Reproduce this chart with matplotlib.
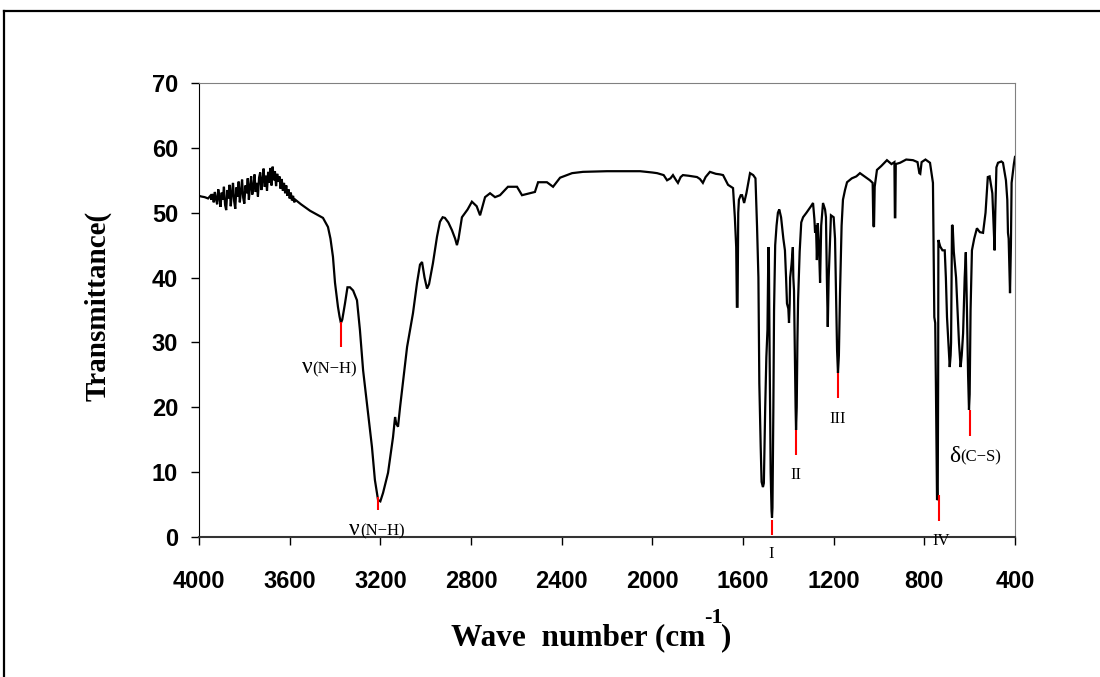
import matplotlib.pyplot as plt
from matplotlib.lines import Line2D

# IR spectrum (wave number in cm-1, transmittance)
wavenumber = [
    4000, 3990, 3975, 3960, 3950,
    3945, 3940, 3935, 3930, 3925, 3920, 3915, 3910, 3905, 3900, 3895, 3890,
    3885, 3880, 3875, 3870, 3865, 3860, 3855, 3850, 3845, 3840, 3835, 3830,
    3825, 3820, 3815, 3810, 3805, 3800, 3795, 3790, 3785, 3780, 3775, 3770,
    3765, 3760, 3755, 3750, 3745, 3740, 3735, 3730, 3725, 3720, 3715, 3710,
    3705, 3700, 3695, 3690, 3685, 3680, 3675, 3670, 3665, 3660, 3655, 3650,
    3645, 3640, 3635, 3630, 3625, 3620, 3615, 3610, 3605, 3600, 3595, 3590,
    3585, 3580, 3575,
    3550, 3510, 3453, 3431, 3420,
    3409, 3400, 3387, 3380, 3374, 3368, 3356, 3345, 3334, 3320, 3303, 3290,
    3276, 3254, 3237, 3224, 3210, 3200, 3188, 3166, 3144, 3135, 3130, 3122,
    3113, 3082, 3056, 3038, 3025, 3016, 3005, 2994, 2985, 2968, 2950, 2937,
    2925, 2915, 2900, 2884, 2870, 2862, 2855, 2840, 2815, 2796, 2775, 2760,
    2738, 2716, 2694, 2672, 2637, 2597, 2575, 2540, 2518, 2504, 2465, 2438,
    2407, 2354, 2306, 2200, 2054, 2000, 1979, 1950, 1935, 1920, 1909, 1895,
    1887, 1875, 1865, 1840, 1803, 1790, 1777, 1765, 1746, 1720, 1700, 1688,
    1666, 1644, 1636, 1630, 1627, 1624, 1621, 1618, 1610, 1604, 1595, 1585,
    1569, 1555, 1545, 1538, 1532, 1528, 1522, 1518, 1512, 1508, 1502, 1497,
    1492, 1488, 1486, 1483, 1478, 1474, 1472, 1470, 1466, 1463, 1458, 1452,
    1446, 1440, 1432, 1422, 1415, 1410, 1406, 1400, 1397, 1394, 1392, 1386,
    1380, 1378, 1375, 1372, 1368, 1366, 1363, 1360, 1357, 1350, 1343, 1335,
    1320, 1300, 1291, 1285, 1282, 1278, 1274, 1270, 1265, 1260, 1255, 1247,
    1238, 1234, 1230, 1226, 1222, 1212, 1200, 1194, 1188, 1185, 1181, 1177,
    1172, 1165, 1159, 1150, 1141, 1120, 1100, 1084, 1060, 1040, 1028, 1025,
    1022, 1019, 1009, 990, 965, 945, 932, 930, 928, 926, 907, 880,
    850, 830, 822, 818, 812, 795, 775, 768, 762, 759, 756, 752,
    749, 746, 744, 741, 739, 738, 730, 720, 710, 705, 700, 694,
    688, 684, 682, 678, 675, 670, 660, 652, 647, 640, 635, 629,
    622, 617, 612, 607, 603, 600, 596, 590, 580, 568, 555, 541,
    530, 520, 512, 500, 493, 490, 487, 482, 475, 460, 453, 440,
    434, 431, 428, 425, 422, 418, 415, 410, 405, 400,
]
transmittance = [
    52.6, 52.5, 52.4, 52.2, 52.6,
    52.0, 52.9, 51.6, 53.2, 52.1, 51.3, 53.6, 52.4, 50.9, 53.1, 52.0, 54.0,
    51.2, 50.4, 53.5, 52.2, 54.3, 51.0, 53.0, 54.6, 51.8, 50.6, 53.9, 52.5,
    54.8, 51.6, 53.2, 55.1, 52.3, 51.4, 54.2, 53.0, 55.3, 52.0, 54.0, 55.6,
    52.8, 53.9, 55.9, 53.2, 54.6, 52.5, 55.4, 56.2, 53.5, 55.0, 56.8, 54.0,
    55.7, 53.4, 56.3, 54.6, 56.9, 54.2, 57.1, 55.0, 56.4, 54.1, 56.0, 54.8,
    55.6, 53.7, 55.2, 53.4, 54.6, 53.0, 54.2, 52.6, 53.6, 52.2, 53.1, 51.9,
    52.6, 51.6, 52.0,
    51.3, 50.3, 49.2, 47.8, 46.0,
    43.2, 39.2, 35.5, 34.0, 33.0, 33.5, 36.0, 38.5, 38.5, 38.0, 36.5, 31.9,
    25.7, 19.1, 13.9, 8.8, 5.7, 5.5, 6.8, 9.9, 15.4, 18.5, 17.5, 17.0,
    20.0, 29.3, 34.5, 39.2, 42.0, 42.4, 40.0, 38.3, 39.0, 42.2, 46.3, 48.6,
    49.3, 49.2, 48.5, 47.3, 46.0, 45.0, 46.0, 49.3, 50.5, 51.7, 51.0, 49.6,
    52.4, 53.0, 52.4, 52.7, 54.0, 54.0, 52.7, 53.0, 53.2, 54.7, 54.7, 54.0,
    55.4, 56.1, 56.3, 56.4, 56.4, 56.2, 56.1, 55.8, 55.0, 55.3, 55.8, 55.0,
    54.6, 55.5, 55.8, 55.7, 55.5, 55.2, 54.6, 55.5, 56.3, 56.0, 55.9, 55.8,
    54.3, 53.8, 49.3, 44.7, 35.5, 35.5, 50.0, 52.0, 52.7, 52.7, 51.5, 53.0,
    56.1, 55.8, 55.3, 47.8, 40.0, 23.7, 14.0, 8.5, 7.7, 8.3, 20.0, 27.7,
    32.0, 44.7, 44.0, 30.0, 10.0, 4.0, 3.0, 4.5, 20.0, 35.0, 45.0, 48.0,
    50.0, 50.5, 49.3, 46.0, 44.2, 40.0, 36.0, 35.2, 33.0, 36.0, 40.0, 42.0,
    44.7, 40.0, 38.0, 30.0, 20.0, 16.5, 20.0, 30.0, 36.5, 44.0, 48.5, 49.3,
    50.0, 51.0, 51.5, 49.0, 46.9, 48.0, 42.7, 48.4, 45.0, 39.2, 48.0, 51.5,
    50.5, 49.3, 40.0, 32.4, 40.0, 49.6, 49.3, 46.0, 35.0, 28.8, 25.3, 28.0,
    37.6, 48.0, 52.0, 53.5, 54.7, 55.3, 55.6, 56.1, 55.5, 55.0, 54.6, 48.0,
    47.8, 54.0, 56.6, 57.2, 58.1, 57.5, 57.8, 49.3, 49.3, 57.5, 57.7, 58.2,
    58.1, 57.8, 56.1, 56.0, 57.8, 58.2, 57.7, 56.0, 54.6, 45.0, 33.9, 33.0,
    23.7, 12.0, 5.7, 5.9, 25.0, 45.8, 44.8, 44.2, 44.2, 40.0, 33.9, 30.0,
    26.2, 28.0, 30.0, 48.1, 48.0, 44.0, 40.0, 34.0, 29.9, 26.2, 28.0, 31.4,
    40.0, 43.9, 35.0, 25.0, 19.6, 22.0, 35.0, 44.2, 46.0, 47.6, 47.0, 46.9,
    50.0, 55.5, 55.6, 53.0, 47.0, 44.2, 50.0, 57.0, 57.7, 57.9, 57.7, 55.0,
    52.0, 46.9, 46.0, 42.0, 37.6, 45.0, 54.6, 56.0, 57.5, 58.6,
]

# red band markers (wave number, top, bottom)
marker_wn = [3374, 3210, 1472, 1366, 1181, 735, 599]
marker_top = [33.1, 6.2, 2.6, 16.5, 25.3, 6.5, 19.6]
marker_bottom = [29.3, 4.2, 0.3, 12.6, 21.4, 2.5, 15.6]

# band labels: roman numerals centred at (wn, T)
roman_labels = ["I", "II", "III", "IV"]
roman_wn = [1477, 1366, 1181, 727]
roman_t = [-3.2, 8.9, 17.6, -1.2]

# greek labels: greek letter ends / subscript starts at (wn, T)
greek_main = ["\u03bd", "\u03bd", "\u03b4"]
greek_rest = ["(N\u2212H)", "(N\u2212H)", "(C\u2212S)"]
greek_wn = [3501, 3290, 643]
greek_t = [25.3, 0.3, 11.6]

x_ticks = [4000, 3600, 3200, 2800, 2400, 2000, 1600, 1200, 800, 400]
y_ticks = [0, 10, 20, 30, 40, 50, 60, 70]

fig = plt.figure(figsize=(11, 6.77), dpi=100)
ax = fig.add_axes([199 / 1100, 140 / 677, 816 / 1100, 454 / 677])

ax.plot(wavenumber, transmittance, color="black", linewidth=1.6,
        solid_joinstyle="miter")
ax.vlines(marker_wn, marker_bottom, marker_top, color="red", linewidth=1.5)

serif = "Liberation Serif"
for lab, w, t in zip(roman_labels, roman_wn, roman_t):
    ax.text(w, t, lab, ha="center", va="baseline", fontsize=12,
            family=serif, clip_on=False)
for g, r, w, t in zip(greek_main, greek_rest, greek_wn, greek_t):
    ax.text(w, t, g, ha="right", va="baseline", fontsize=17,
            family=serif, clip_on=False)
    ax.text(w, t, r, ha="left", va="baseline", fontsize=12,
            family=serif, clip_on=False)

ax.set_xlim(4000, 400)
ax.set_ylim(0, 70)
ax.set_xticks(x_ticks)
ax.set_yticks(y_ticks)
for lbl in ax.get_xticklabels() + ax.get_yticklabels():
    lbl.set_family("Liberation Sans")
    lbl.set_fontweight("bold")
    lbl.set_fontsize(17)
ax.tick_params(axis="x", direction="out", length=6, width=1, pad=18)
ax.tick_params(axis="y", direction="out", length=6, width=1, pad=9)

ax.spines["left"].set_color("black")
ax.spines["bottom"].set_color("#333333")
ax.spines["bottom"].set_linewidth(1.5)
ax.spines["top"].set_color("#808080")
ax.spines["right"].set_color("#808080")

# axis titles placed in figure pixels
fig.text(98 / 1100, 1 - 306 / 677, "Transmittance(", rotation=90,
         ha="center", va="center", fontsize=21, fontweight="bold", family=serif)
fig.text(451 / 1100, 1 - 645 / 677, "Wave  number (cm", ha="left",
         va="baseline", fontsize=22.5, fontweight="bold", family=serif)
fig.text(704 / 1100, 1 - 623 / 677, "-1", ha="left", va="baseline",
         fontsize=16, fontweight="bold", family=serif)
fig.text(721 / 1100, 1 - 645 / 677, ")", ha="left", va="baseline",
         fontsize=22.5, fontweight="bold", family=serif)

# outer border (top and left edges visible)
fig.add_artist(Line2D([4 / 1100, 4 / 1100], [0, 1 - 11 / 677],
                      transform=fig.transFigure, color="black", linewidth=1.6))
fig.add_artist(Line2D([4 / 1100, 1], [1 - 11 / 677, 1 - 11 / 677],
                      transform=fig.transFigure, color="black", linewidth=1.6))

fig.savefig("out.png", dpi=100)
